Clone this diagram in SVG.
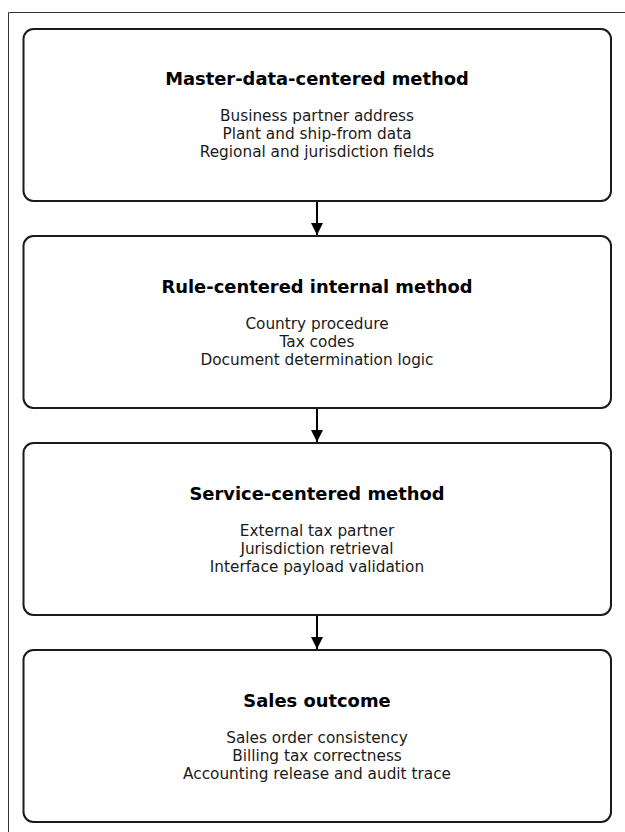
<svg xmlns="http://www.w3.org/2000/svg" width="625" height="832" viewBox="0 0 625 832">
  <style>
    .box { fill: #ffffff; stroke: #1a1a1a; stroke-width: 2; }
    .title { font-family: "DejaVu Sans", "Liberation Sans", sans-serif; font-size: 17.9px; font-weight: bold; fill: #000000; text-anchor: middle; }
    .body { font-family: "DejaVu Sans", "Liberation Sans", sans-serif; font-size: 15.3px; fill: #1a1a1a; text-anchor: middle; }
    .edge { stroke: #000000; stroke-width: 2; fill: none; }
  </style>
  <defs>
    <marker id="arrow" viewBox="0 0 10 10" refX="10" refY="5" markerWidth="6" markerHeight="6" orient="auto" markerUnits="strokeWidth">
      <path d="M0,0 L10,5 L0,10 Z" fill="#000000"/>
    </marker>
  </defs>

  <rect width="625" height="832" fill="#ffffff"/>
  <!-- outer frame -->
  <path d="M8.5,832 L8.5,12.5 L625,12.5" fill="none" stroke="#333333" stroke-width="1"/>

  <g id="node-master-data">
    <rect class="box" x="23.5" y="29" width="587.5" height="172" rx="10" ry="10"/>
    <text class="title" x="317" y="85">Master-data-centered method</text>
    <text class="body" x="317" y="121">Business partner address</text>
    <text class="body" x="317" y="139">Plant and ship-from data</text>
    <text class="body" x="317" y="157">Regional and jurisdiction fields</text>
  </g>

  <g id="node-rule">
    <rect class="box" x="23.5" y="236" width="587.5" height="172" rx="10" ry="10"/>
    <text class="title" x="317" y="292.5">Rule-centered internal method</text>
    <text class="body" x="317" y="328.5">Country procedure</text>
    <text class="body" x="317" y="346.5">Tax codes</text>
    <text class="body" x="317" y="364.5">Document determination logic</text>
  </g>

  <g id="node-service">
    <rect class="box" x="23.5" y="443" width="587.5" height="172" rx="10" ry="10"/>
    <text class="title" x="317" y="499.5">Service-centered method</text>
    <text class="body" x="317" y="535.5">External tax partner</text>
    <text class="body" x="317" y="553.5">Jurisdiction retrieval</text>
    <text class="body" x="317" y="571.5">Interface payload validation</text>
  </g>

  <g id="node-sales">
    <rect class="box" x="23.5" y="650" width="587.5" height="172" rx="10" ry="10"/>
    <text class="title" x="317" y="706.5">Sales outcome</text>
    <text class="body" x="317" y="742.5">Sales order consistency</text>
    <text class="body" x="317" y="760.5">Billing tax correctness</text>
    <text class="body" x="317" y="778.5">Accounting release and audit trace</text>
  </g>

  <g id="connectors">
    <line class="edge" x1="317" y1="202" x2="317" y2="235" marker-end="url(#arrow)"/>
    <line class="edge" x1="317" y1="409" x2="317" y2="442" marker-end="url(#arrow)"/>
    <line class="edge" x1="317" y1="616" x2="317" y2="649" marker-end="url(#arrow)"/>
  </g>
</svg>
